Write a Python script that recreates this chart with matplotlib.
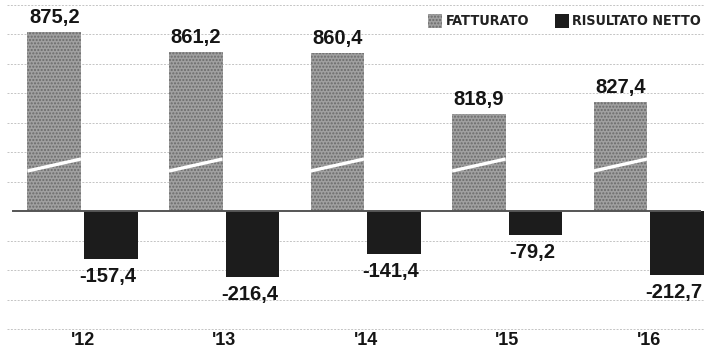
import numpy as np
import matplotlib
matplotlib.use("Agg")
import matplotlib.pyplot as plt

years = ["'12", "'13", "'14", "'15", "'16"]
fatturato = [875.2, 861.2, 860.4, 818.9, 827.4]
risultato = [-157.4, -216.4, -141.4, -79.2, -212.7]

BOLD = ['Liberation Sans', 'DejaVu Sans']

# broken axis: below 0 linear, 0..brk squeezed, above brk stretched
brk = 784.0
xs = [-5000, 0, brk, 5000]
ys = [-5000 * 0.303, 0, 46, 46 + (5000 - brk) * 1.46]


def fwd(v):
    return np.interp(v, xs, ys)


def inv(y):
    return np.interp(y, ys, xs)


fig = plt.figure(figsize=(7.08, 3.49), dpi=100)
ax = fig.add_axes([0, 0, 1, 1])
ax.set_yscale('function', functions=(fwd, inv))
ax.set_ylim(inv(-138), inv(211))
ax.set_xlim(-0.583, 4.419)
ax.axis('off')

# faint background rules
for k in range(12):
    if k == 7:
        continue
    yf = 1 - (4.5 + 29.5 * k) / 349
    ax.plot([0.01, 0.995], [yf, yf], transform=ax.transAxes, color='#c4c4c4',
            lw=0.7, ls=(0, (2, 1.5)), zorder=0)

x = np.arange(len(years))
w = 0.378
off = 0.2
gray = '#a0a0a0'

ax.bar(x - off, fatturato, w, color=gray, edgecolor='#6a6a6a', hatch='.....',
       linewidth=0, zorder=2)
ax.bar(x + off, risultato, w, color='#1c1c1c', linewidth=0, zorder=2)

# break marks on the fatturato bars
for xi in x:
    ax.plot([xi - off - w / 2, xi - off + w / 2], [inv(40), inv(52)], color='white',
            lw=2.4, solid_capstyle='butt', zorder=3)

ax.plot([13 / 708, 700 / 708], [0, 0], transform=ax.get_yaxis_transform(),
        color='#555555', lw=1.4, zorder=4)

for xi, v in zip(x, fatturato):
    ax.annotate(f"{v:.1f}".replace('.', ','), (xi - off, v), xytext=(0, 5),
                textcoords='offset pixels', ha='center', va='bottom',
                fontsize=14.5, fontweight='bold', family=BOLD, color='#151515')
for xi, v in zip(x, risultato):
    ax.annotate(f"{v:.1f}".replace('.', ','), (xi + off, v), xytext=(-3, -8),
                textcoords='offset pixels', ha='center', va='top',
                fontsize=14.5, fontweight='bold', family=BOLD, color='#151515')

for xi, lab in zip(x, years):
    ax.text(xi, 0.025, lab, transform=ax.get_xaxis_transform(), ha='center',
            va='center', fontsize=13, fontweight='bold', family=BOLD, color='#151515')

# legend
ly = 1 - 21 / 349
ax.add_patch(plt.Rectangle((428 / 708, ly - 7 / 349), 14 / 708, 14 / 349,
                           transform=ax.transAxes, facecolor=gray, edgecolor='#6a6a6a',
                           hatch='.....', linewidth=0))
ax.text(446 / 708, ly, "FATTURATO", transform=ax.transAxes, ha='left', va='center',
        fontsize=10.4, fontweight='bold', family='DejaVu Sans', fontstretch='condensed',
        color='#222222')
ax.add_patch(plt.Rectangle((555 / 708, ly - 7 / 349), 14 / 708, 14 / 349,
                           transform=ax.transAxes, facecolor='#1c1c1c', linewidth=0))
ax.text(572 / 708, ly, "RISULTATO NETTO", transform=ax.transAxes, ha='left', va='center',
        fontsize=10.3, fontweight='bold', family='DejaVu Sans', fontstretch='condensed',
        color='#222222')

fig.savefig("out.png", dpi=100)
